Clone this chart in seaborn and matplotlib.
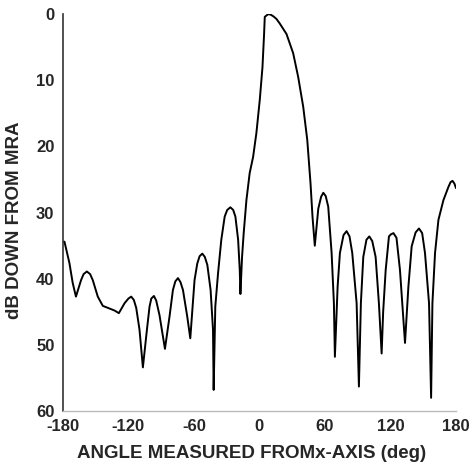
import numpy as np
import pandas as pd
import matplotlib
matplotlib.use("Agg")
import matplotlib.pyplot as plt
import seaborn as sns

# Pattern (angle in deg, dB down from MRA)
angle = [-180, -178.5, -174, -171, -168, -163.3, -161, -158, -155, -152.6,
         -148, -143.4, -137.3, -132.7, -128.7, -123.5, -120, -117.4, -115, -112.8,
         -109.8, -106.7, -103, -100.6, -99, -96.6, -94.5, -91.5, -86.5, -82.3,
         -79.2, -77, -74.6, -72.3, -70, -66.1, -63.3, -59.4, -56.9, -54.8,
         -52.3, -50, -47.7, -44.7, -42.5, -41.9, -40.4, -37.9, -34.9, -31.8,
         -29.5, -26.6, -24, -22.0, -19.5, -18.0, -17.4, -15.9, -14.4, -11.9,
         -8.9, -5.8, -2.8, 0.3, 2.8, 4.3, 4.9, 8, 10, 12.6,
         15.5, 18.6, 24.8, 30.9, 35.5, 40.1, 43.8, 46.8, 48.6, 50.7,
         53.9, 56.5, 58.5, 60.7, 63.0, 66.1, 68.2, 69.1, 71.6, 73.7,
         77, 79.8, 82.5, 85.0, 89.0, 91.1, 92.9, 95.1, 98, 100.6,
         103.3, 106.4, 109.4, 111.9, 113.3, 115.6, 118.6, 120.3, 122.7, 125.5,
         128.7, 131.8, 133.3, 136.4, 139.4, 143, 146.1, 149, 151.6, 155.3,
         157.2, 158.4, 160.8, 163.9, 168.5, 173.1, 175, 176.8, 178.5, 180]
db_down = [34.4, 34.4, 37.6, 40.6, 42.7, 40.2, 39.3, 38.9, 39.3, 40.2,
           42.7, 44.1, 44.5, 44.8, 45.2, 43.7, 43.0, 42.7, 43.2, 44.4,
           47.7, 53.4, 47.7, 44.2, 43.0, 42.6, 43.3, 45.5, 50.6, 45.7,
           41.7, 40.4, 39.9, 40.5, 41.7, 45.7, 49.0, 40.2, 37.7, 36.6,
           36.2, 36.7, 37.9, 41.7, 47.7, 56.8, 44.2, 39.2, 34.1, 30.6,
           29.6, 29.2, 29.6, 30.6, 34.1, 38.7, 42.3, 36.7, 33.1, 28.1,
           24.0, 21.6, 18.0, 13.0, 8.0, 2.9, 0.4, 0.0, 0.05, 0.3,
           0.7, 1.4, 3.0, 5.9, 9.5, 14.0, 19.0, 25.6, 30.6, 35.0,
           29.4, 27.6, 27.0, 27.5, 29.1, 36.1, 43.7, 51.8, 41.2, 36.1,
           33.4, 32.8, 33.6, 36.1, 43.7, 56.3, 43.7, 36.7, 34.1, 33.6,
           34.3, 36.7, 43.7, 51.3, 45.0, 38.7, 33.6, 33.3, 33.1, 33.8,
           38.7, 46.2, 49.7, 41.2, 35.1, 33.0, 32.4, 33.1, 36.1, 43.7,
           58.0, 43.7, 36.1, 31.1, 28.1, 26.1, 25.4, 25.2, 25.6, 26.3]

x_ticks = [-180, -120, -60, 0, 60, 120, 180]
y_ticks = [0, 10, 20, 30, 40, 50, 60]

df = pd.DataFrame({"angle": angle, "db": db_down})

sns.set_style("white")
plt.rcParams["font.family"] = ["Liberation Sans", "DejaVu Sans"]

fig = plt.figure(figsize=(4.76, 4.73), dpi=100)
ax = fig.add_axes([0.132, 0.131, 0.826, 0.839])

sns.lineplot(data=df, x="angle", y="db", sort=False, estimator=None,
             color="black", linewidth=1.4, ax=ax)

ax.set_xlim(-180, 180)
ax.set_ylim(60, 0)
ax.set_xticks(x_ticks)
ax.set_yticks(y_ticks)
ax.set_xticklabels([str(t) for t in x_ticks], fontsize=12, fontweight="bold")
ax.set_yticklabels([str(t) for t in y_ticks], fontsize=12, fontweight="bold")

for s in ["top", "right"]:
    ax.spines[s].set_visible(False)
ax.spines["left"].set_color("#333333")
ax.spines["left"].set_linewidth(1.2)
ax.spines["bottom"].set_color("#bbbbbb")
ax.spines["bottom"].set_linewidth(1.0)

ax.tick_params(axis="y", direction="out", length=4, width=1, color="#333333", pad=2)
ax.tick_params(axis="x", direction="in", length=4, width=1, color="#555555", pad=6)

ax.set_xlabel("ANGLE MEASURED FROMx-AXIS (deg)", fontsize=13.5, fontweight="bold")
ax.set_ylabel("dB DOWN FROM MRA", fontsize=13.5, fontweight="bold")
ax.xaxis.set_label_coords(0.481, -0.085)
ax.yaxis.set_label_coords(-0.102, 0.481)

fig.savefig("out.png", dpi=100, facecolor="white")
